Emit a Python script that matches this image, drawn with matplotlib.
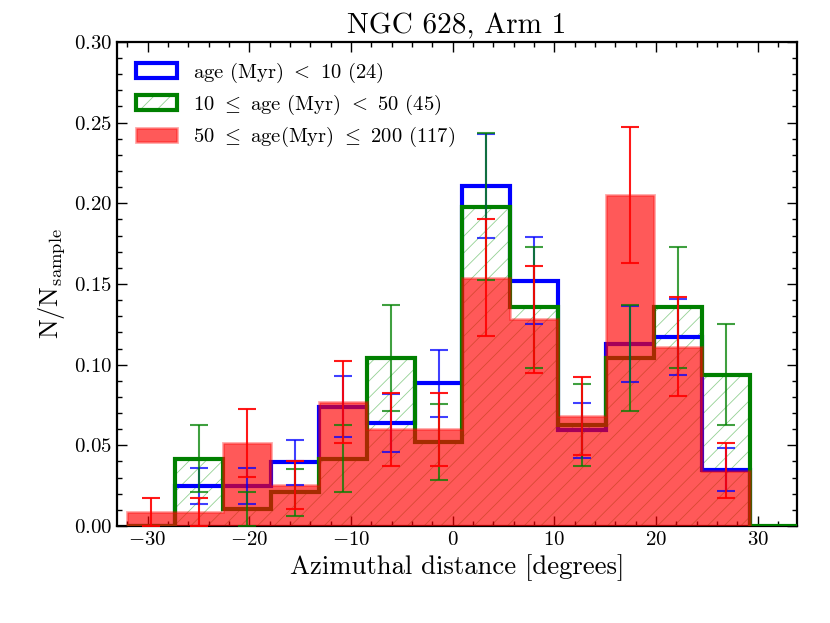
import numpy as np
import matplotlib
matplotlib.use("Agg")
import matplotlib.pyplot as plt
from matplotlib.patches import Patch
from matplotlib.legend_handler import HandlerTuple
from matplotlib.ticker import MultipleLocator, FormatStrFormatter

plt.rcParams["font.family"] = "serif"
plt.rcParams["font.serif"] = ["cmr10"]
plt.rcParams["mathtext.fontset"] = "cm"
plt.rcParams["axes.formatter.use_mathtext"] = True
plt.rcParams["hatch.linewidth"] = 0.6

# ---------------------------------------------------------------------------
# Data
# ---------------------------------------------------------------------------
bin_edges = [-32.02, -27.31, -22.59, -17.88, -13.17, -8.45, -3.74,
             0.97, 5.69, 10.40, 15.11, 19.83, 24.54, 29.25]
green_extra_edge = 34.5   # green histogram runs on (empty) to the right

# age < 10 Myr (24)
blue_frac = [0.0, 0.0248, 0.0248, 0.0395, 0.0738, 0.0638, 0.0884,
             0.2108, 0.1520, 0.0592, 0.1128, 0.1170, 0.0350]
blue_err = [0.0, 0.0109, 0.0109, 0.0138, 0.0189, 0.0177, 0.0208,
            0.0324, 0.0271, 0.0169, 0.0234, 0.0237, 0.0132]

# 10 <= age < 50 Myr (45)
green_counts = [0, 4, 1, 2, 4, 10, 5, 19, 13, 6, 10, 13, 9]
green_norm = 96.0

# 50 <= age <= 200 Myr (117)
red_counts = [1, 1, 6, 3, 9, 7, 7, 18, 15, 8, 24, 13, 4]
red_norm = 117.0

labels = [r"age (Myr) $<$ 10 (24)",
          r"10 $\leq$ age (Myr) $<$ 50 (45)",
          r"50 $\leq$ age(Myr) $\leq$ 200 (117)"]

# ---------------------------------------------------------------------------
edges = np.array(bin_edges)
centers = 0.5 * (edges[:-1] + edges[1:])
blue_frac = np.array(blue_frac)
blue_err = np.array(blue_err)
gc = np.array(green_counts, dtype=float)
green_frac = gc / green_norm
green_err = np.sqrt(gc) / green_norm
rc = np.array(red_counts, dtype=float)
red_frac = rc / red_norm
red_err = np.sqrt(rc) / red_norm

HATCH_GREEN = (0.3, 0.7, 0.3, 0.6)
RED_FACE = (1, 0, 0, 0.65)
RED_EDGE = (1, 0, 0, 0.35)

fig = plt.figure(figsize=(8.3, 6.23), dpi=100)
ax = fig.add_axes([0.141, 0.1557, 0.819, 0.777])

green_edges = np.append(edges, green_extra_edge)
green_vals = np.append(green_frac, 0.0)

# blue outline, then green hatch + outline on top of it
ax.stairs(blue_frac, edges, color="blue", linewidth=3, zorder=2)
ax.stairs(green_vals, green_edges, fill=True, facecolor="none",
          edgecolor=HATCH_GREEN, hatch="//", linewidth=0, zorder=1)
ax.stairs(green_vals, green_edges, color="green", linewidth=3, zorder=3)
# red filled
ax.stairs(red_frac, edges, fill=True, facecolor=RED_FACE,
          edgecolor=RED_EDGE, linewidth=2, zorder=4)

ekw = dict(fmt="none", capsize=6.5, capthick=1.5, elinewidth=1.5, zorder=5)
m = blue_frac > 0
ax.errorbar(centers[m], blue_frac[m], yerr=blue_err[m], ecolor="blue",
            alpha=0.75, **ekw)
m = gc > 0
ax.errorbar(centers[m], green_frac[m], yerr=green_err[m], ecolor="green",
            alpha=0.75, **ekw)
m = rc > 0
ax.errorbar(centers[m], red_frac[m], yerr=red_err[m], ecolor="red",
            alpha=0.9, **ekw)

ax.set_xlim(-33.0, 33.85)
ax.set_ylim(0, 0.30)
ax.xaxis.set_major_locator(MultipleLocator(10))
ax.xaxis.set_minor_locator(MultipleLocator(2))
ax.yaxis.set_major_locator(MultipleLocator(0.05))
ax.yaxis.set_minor_locator(MultipleLocator(0.01))
ax.yaxis.set_major_formatter(FormatStrFormatter(r"$%.2f$"))
ax.tick_params(which="both", direction="in", top=True, right=True,
               labelsize=15, width=1.0)
ax.tick_params(which="major", length=7)
ax.tick_params(which="minor", length=3.5)
for sp in ax.spines.values():
    sp.set_linewidth(1.6)

ax.set_title("NGC 628, Arm 1", fontsize=21)
ax.set_xlabel("Azimuthal distance [degrees]", fontsize=19.2)
ax.set_ylabel(r"$\mathrm{N/N_{sample}}$", fontsize=19)

handles = [
    Patch(facecolor="white", edgecolor="blue", linewidth=3),
    (Patch(facecolor="white", edgecolor=HATCH_GREEN, hatch="//", linewidth=0),
     Patch(facecolor="none", edgecolor="green", linewidth=3)),
    Patch(facecolor=RED_FACE, edgecolor=RED_EDGE, linewidth=2),
]
ax.legend(handles, labels, loc="upper left", frameon=False, fontsize=14.8,
          labelspacing=0.4,
          handler_map={tuple: HandlerTuple(ndivide=1, pad=0)})

fig.savefig("out.png", dpi=100)
